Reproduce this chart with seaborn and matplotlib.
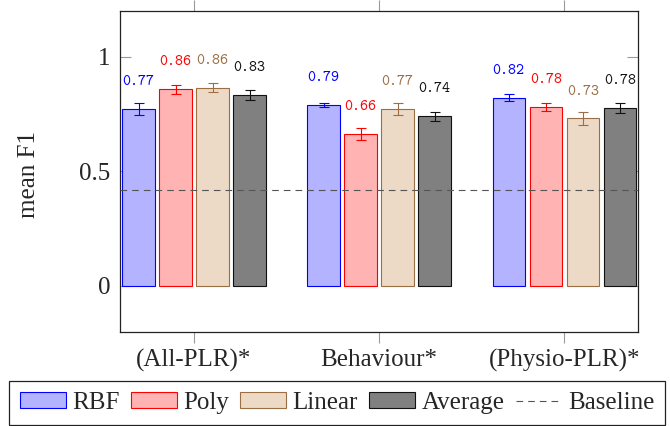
import os
import matplotlib
matplotlib.use("Agg")
import matplotlib.pyplot as plt
import seaborn as sns
import pandas as pd
from matplotlib.patches import Patch
from matplotlib.lines import Line2D
from matplotlib.font_manager import FontProperties

# ---- data ----
categories = ["(All-PLR)*", "Behaviour*", "(Physio-PLR)*"]
kernels = ["RBF", "Poly", "Linear", "Average"]
rbf_vals = [0.772, 0.79, 0.82]
poly_vals = [0.858, 0.662, 0.78]
linear_vals = [0.864, 0.772, 0.73]
avg_vals = [0.832, 0.74, 0.777]
rbf_err = [0.025, 0.009, 0.015]
poly_err = [0.02, 0.028, 0.019]
linear_err = [0.02, 0.025, 0.03]
avg_err = [0.022, 0.02, 0.022]
baseline = 0.42
ytick_vals = [0, 0.5, 1]
ytick_labels = ["0", "0.5", "1"]

values = {"RBF": rbf_vals, "Poly": poly_vals, "Linear": linear_vals, "Average": avg_vals}
errors = {"RBF": rbf_err, "Poly": poly_err, "Linear": linear_err, "Average": avg_err}

fills = {"RBF": "#b3b3ff", "Poly": "#ffb3b3", "Linear": "#ecd9c6", "Average": "#808080"}
edges = {"RBF": "#0000ff", "Poly": "#ff0000", "Linear": "#9b6e44", "Average": "#111111"}

rows = []
for k in kernels:
    for c, v in zip(categories, values[k]):
        rows.append({"category": c, "kernel": k, "value": v})
df = pd.DataFrame(rows)

sns.set_style("white")
plt.rcParams["font.family"] = ["Liberation Serif", "DejaVu Serif"]

tt_path = os.path.join(matplotlib.get_data_path(), "fonts", "ttf", "cmtt10.ttf")
if os.path.exists(tt_path):
    tt_font = FontProperties(fname=tt_path, size=11)
else:
    tt_font = FontProperties(family="Liberation Mono", size=10.5)

fig = plt.figure(figsize=(6.7, 4.26), dpi=100)
ax = fig.add_axes([0.1791, 0.2214, 0.7736, 0.7535])

sns.barplot(data=df, x="category", y="value", hue="kernel", order=categories,
            hue_order=kernels, palette=fills, errorbar=None, gap=0.125,
            saturation=1, linewidth=0.8, ax=ax, legend=False, zorder=2)

for k, cont in zip(kernels, ax.containers):
    for i, p in enumerate(cont.patches):
        p.set_edgecolor(edges[k])
        p.set_linewidth(0.8)
        x = p.get_x() + p.get_width() / 2
        y = p.get_height()
        ax.errorbar(x, y, yerr=errors[k][i], fmt="none", ecolor=edges[k],
                    elinewidth=0.8, capsize=3.8, capthick=0.8, zorder=3)
        ax.text(x, y + 0.104, f"{values[k][i]:.2f}", ha="center",
                va="baseline", color=edges[k], fontproperties=tt_font, zorder=4)

ax.axhline(baseline, color="#555555", lw=0.8, ls=(0, (6, 4.5)), zorder=5)

ax.set_xlim(-0.4, 2.4)
ax.set_ylim(-0.2, 1.2)
ax.set_yticks(ytick_vals)
ax.set_yticklabels(ytick_labels)
ax.set_xlabel("")
ax.set_ylabel("mean F1", fontsize=18)
ax.yaxis.set_label_coords(-0.155, 0.49)

ax.tick_params(axis="y", direction="in", left=True, right=True, length=7.9,
               width=0.8, color="#999999", labelsize=18, pad=7)
ax.tick_params(axis="x", direction="out", bottom=True, top=True, length=7.9,
               width=0.8, color="#999999", labelsize=18, pad=4.5)
for s in ax.spines.values():
    s.set_color("#222222")
    s.set_linewidth(0.9)

handles = [Patch(facecolor=fills[k], edgecolor=edges[k], linewidth=0.8) for k in kernels]
handles.append(Line2D([], [], color="#555555", lw=0.8, ls=(0, (6, 4.5))))
leg = fig.legend(handles, kernels + ["Baseline"], loc="center",
                 bbox_to_anchor=(0.503, 0.054), ncol=5, fontsize=18,
                 handlelength=1.84, handleheight=0.6, handletextpad=0.25,
                 columnspacing=0.45, borderpad=0.45, borderaxespad=0,
                 frameon=True, fancybox=False, framealpha=1)
leg.get_frame().set_edgecolor("#222222")
leg.get_frame().set_linewidth(0.9)

fig.savefig("out.png", dpi=100)
